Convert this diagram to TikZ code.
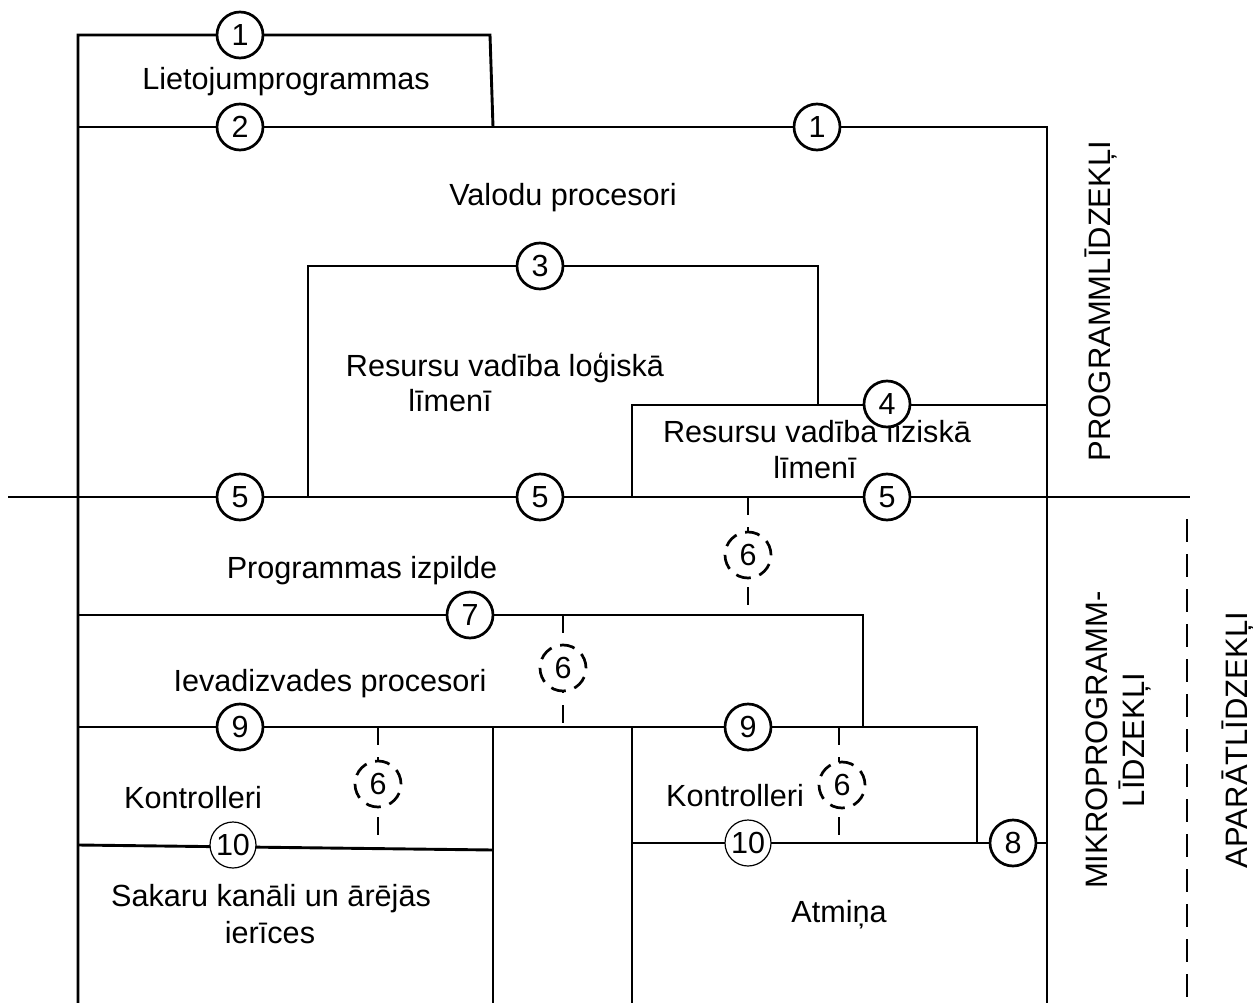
\documentclass[tikz,border=0pt]{standalone}
\usepackage{fontspec}
\setmainfont{Liberation Sans}
\begin{document}
\begin{tikzpicture}[x=1pt,y=-1pt,
 ln/.style={line width=2.9pt},
 num/.style={circle,draw,line width=2.7pt,fill=white,minimum size=46pt,inner sep=0pt,font=\fontsize{30.5}{31}\selectfont},
 thinnum/.style={num,line width=1.2pt},
 dnum/.style={num,dash pattern=on 15pt off 9pt},
 dln/.style={line width=2.7pt,dash pattern=on 18pt off 12pt},
 lbl/.style={anchor=base,font=\fontsize{30.6}{36}\selectfont,inner sep=0pt},
 side/.style={rotate=90,font=\fontsize{31}{37}\selectfont,inner sep=0pt,align=center}]
\useasboundingbox (0,0) rectangle (1253,1003);
% solid frame lines
\draw[ln] (78,1003) -- (78,35) -- (490,35) -- (493,127);
\draw[ln] (78,127) -- (1047,127) -- (1047,1003);
\draw[ln] (308,497) -- (308,266) -- (818,266) -- (818,405);
\draw[ln] (632,497) -- (632,405) -- (1047,405);
\draw[ln] (8,497) -- (1190,497);
\draw[ln] (78,615) -- (863,615) -- (863,727);
\draw[ln] (78,727) -- (977,727) -- (977,843);
\draw[ln] (78,845) -- (493,850);
\draw[ln] (493,727) -- (493,1003);
\draw[ln] (632,1003) -- (632,727);
\draw[ln] (632,843) -- (1047,843);
% dashed links
\draw[dln] (748,497) -- (748,615);
\draw[dln] (563,615) -- (563,727);
\draw[dln] (378,727) -- (378,848);
\draw[dln] (839,727) -- (839,843);
\draw[line width=2.7pt,dash pattern=on 23pt off 12pt] (1187,519) -- (1187,1003);
% labels
\node[lbl] (t1) at (286,90) {Lietojumprogrammas};
\node[lbl] (t2) at (563,206) {Valodu procesori};
\node[lbl] (t3) at (505,376) {Resursu vadība loģiskā};
\node[lbl] (t3b) at (450,411) {līmenī};
\node[lbl] (t4) at (817,442) {Resursu vadība fiziskā};
\node[lbl] (t4b) at (815,478) {līmenī};
\node[lbl] (t5) at (362,578) {Programmas izpilde};
\node[lbl] (t6) at (330,691) {Ievadizvades procesori};
\node[lbl] (t7) at (193,808) {Kontrolleri};
\node[lbl] (t8) at (735,806) {Kontrolleri};
\node[lbl] (t9) at (271,906) {Sakaru kanāli un ārējās};
\node[lbl] (t9b) at (270,943) {ierīces};
\node[lbl] (t10) at (839,922) {Atmiņa};
\node[side,anchor=base] (s1) at (1110,301) {PROGRAMMLĪDZEKĻI};
\node[side] (s2) at (1118,740) {MIKROPROGRAMM-\\LĪDZEKĻI};
\node[side,anchor=base] (s3) at (1247,740) {APARĀTLĪDZEKĻI};
% numbered circles
\node[num] (c1a) at (240,35) {1};
\node[num] (c2) at (240,127) {2};
\node[num] (c1b) at (817,127) {1};
\node[num] (c3) at (540,266) {3};
\node[num] (c4) at (887,404) {4};
\node[num] (c5a) at (240,497) {5};
\node[num] (c5b) at (540,497) {5};
\node[num] (c5c) at (887,497) {5};
\node[num] (c7) at (470,615) {7};
\node[num] (c9a) at (240,727) {9};
\node[num] (c9b) at (748,727) {9};
\node[thinnum] (c10a) at (233,845) {10};
\node[thinnum] (c10b) at (748,843) {10};
\node[num] (c8) at (1013,843) {8};
\node[dnum] (d1) at (748,555) {6};
\node[dnum] (d2) at (563,668) {6};
\node[dnum] (d3) at (378,784) {6};
\node[dnum] (d4) at (842,785) {6};
\end{tikzpicture}
\end{document}
